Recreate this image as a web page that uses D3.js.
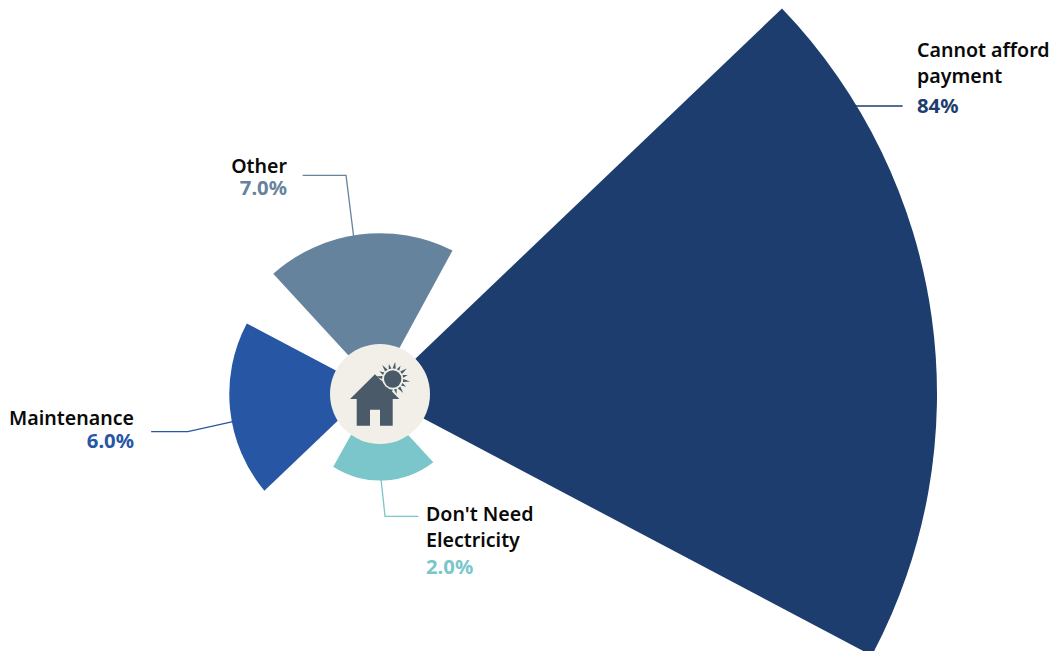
<!DOCTYPE html>
<html><head><meta charset="utf-8">
<script src="https://cdnjs.cloudflare.com/ajax/libs/d3/7.8.5/d3.min.js"></script>
<style>html,body{margin:0;padding:0;background:#fff;overflow:hidden}svg{display:block}
text{font-family:"Noto Sans",sans-serif;font-weight:600;font-size:19.6px}</style></head>
<body><svg id="c" width="1055" height="651"></svg>
<script>
// data (clockwise order)
const categories = ["Cannot afford payment", "Don't Need Electricity", "Maintenance", "Other"];
const values = [84, 2.03, 6.15, 7];
const valueLabels = ["84%", "2.0%", "6.0%", "7.0%"];
const labelLines = [["Cannot afford", "payment"], ["Don't Need", "Electricity"], ["Maintenance"], ["Other"]];
const colors = ["#1c3d6e", "#7ac6ca", "#2756a5", "#66839d"];

// layout
const cx = 380, cy = 394, hubR = 50;
const rad = d => d * Math.PI / 180;
const r = d3.scaleSqrt().domain([0, 84]).range([0, 557]);
const rimAngles = [[46.2, 118], [142, 212.7], [230.1, 297.9], [-41.6, 26.8]];
const hubAngles = [[45, 119.5], [145.4, 215.3], [237.7, 298.1], [-39.4, 22.9]];
const polar = (R, deg) => [R * Math.sin(rad(deg)), -R * Math.cos(rad(deg))];
const svg = d3.select("#c");
const g = svg.append("g").attr("transform", `translate(${cx},${cy})`);

const sectors = values.map((v, i) => ({v, i}));
g.selectAll("path.s").data(sectors).join("path").attr("class", "s")
  .attr("fill", d => colors[d.i])
  .attr("d", d => {
    const R = r(d.v), [a0, a1] = rimAngles[d.i], [b0, b1] = hubAngles[d.i];
    const p = d3.path();
    p.moveTo(...polar(hubR, b0));
    p.lineTo(...polar(R, a0));
    p.arc(0, 0, R, rad(a0 - 90), rad(a1 - 90));
    p.lineTo(...polar(hubR, b1));
    p.closePath();
    return p.toString();
  });

// leaders: point on the sector rim (angle) then elbow offsets relative to it
const leaderAngle = [58.8, 179.3, 259.4, -9.5];
const leaderSteps = [
  [[47, 0]],
  [[4, 36.8], [37.3, 36.8]],
  [[-45, 10], [-81.7, 10]],
  [[-7.6, -61], [-51, -61]]
];
const line = d3.line();
sectors.forEach(d => {
  const [x0, y0] = polar(r(d.v) - 1, leaderAngle[d.i]);
  g.append("path").attr("fill", "none").attr("stroke", colors[d.i]).attr("stroke-width", 1.3)
    .attr("d", line([[x0, y0], ...leaderSteps[d.i].map(p => [x0 + p[0], y0 + p[1]])]));
});

// labels
const labelAnchor = ["start", "start", "end", "end"];
const labelX = [917, 426, 134, 287];
const labelY = [[57, 83, 113], [521, 547, 574], [425, 447.5], [173, 195]];
categories.forEach((c, i) => {
  const t = svg.append("g").attr("text-anchor", labelAnchor[i]);
  labelLines[i].forEach((s, k) => t.append("text").attr("x", labelX[i]).attr("y", labelY[i][k]).attr("fill", "#0a0a0a").text(s));
  t.append("text").attr("x", labelX[i]).attr("y", labelY[i][labelLines[i].length])
    .attr("fill", colors[i]).style("font-weight", 700).style("font-size", "20.3px").text(valueLabels[i]);
});

// hub icon
const hubFill = "#f2efe8", iconFill = "#4a5a68";
g.append("circle").attr("r", hubR).attr("fill", hubFill);
const sx = 12.7, sy = -15;
const rays = d3.range(16).map(k => k * 22.5);
g.selectAll("path.ray").data(rays).join("path").attr("class", "ray").attr("fill", iconFill)
  .attr("transform", d => `translate(${sx},${sy}) rotate(${d + 8})`)
  .attr("d", (d, i) => i % 2 ? "M-1.4,-10.5L0,-15.5L1.4,-10.5Z" : "M-1.6,-10.5L0,-17.5L1.6,-10.5Z");
g.append("path").attr("fill", iconFill)
  .attr("d", "M-5,-19.7L19.3,5L12.7,5L12.7,31.7L0,31.7L0,15.7L-10,15.7L-10,31.7L-23.3,31.7L-23.3,5L-30,5Z");
g.append("circle").attr("cx", sx).attr("cy", sy).attr("r", 10.3).attr("fill", hubFill);
g.append("circle").attr("cx", sx).attr("cy", sy).attr("r", 8.7).attr("fill", iconFill);
</script></body></html>
